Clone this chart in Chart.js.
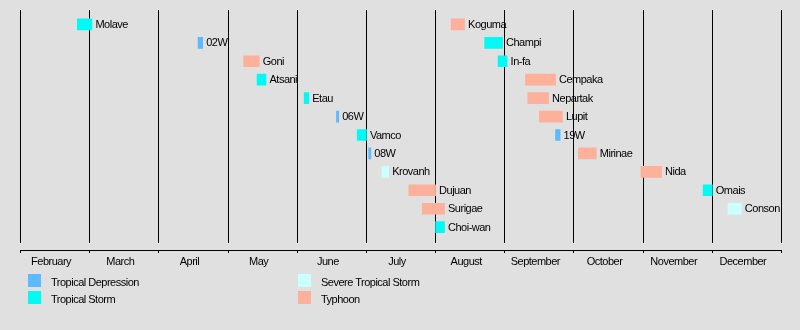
<!DOCTYPE html>
<html>
<head>
<meta charset="utf-8">
<script src="https://cdn.jsdelivr.net/npm/chart.js@4/dist/chart.umd.min.js"></script>
<style>
  html, body { margin: 0; padding: 0; background: #e0e0e0; }
  #wrap { position: relative; width: 800px; height: 330px; background: #e0e0e0; }
  #legend { position: absolute; left: 0; top: 0; width: 800px; height: 330px; pointer-events: none;
            font-family: "Liberation Sans", Arial, sans-serif; font-size: 11px; letter-spacing: -0.5px; color: #000; }
  .li { position: absolute; height: 13px; line-height: 13px; white-space: nowrap; }
  .sw { position: absolute; left: 0; top: 0; width: 13px; height: 13px; }
  .tx { position: absolute; left: 23px; top: 1.5px; }
</style>
</head>
<body>
<div id="wrap">
  <canvas id="c"></canvas>
  <div id="legend"></div>
</div>
<script>
// ---- data ----
const months = ['February','March','April','May','June','July','August','September','October','November','December'];
const monthNumbers = [2,3,4,5,6,7,8,9,10,11,12];
const daysInMonth = [28,31,30,31,30,31,31,30,31,30,31];

const storms = ['Molave','02W','Goni','Atsani','Etau','06W','Vamco','08W','Krovanh','Dujuan','Surigae','Choi-wan',
                'Koguma','Champi','In-fa','Cempaka','Nepartak','Lupit','19W','Mirinae','Nida','Omais','Conson'];
const rows = [1,2,3,4,5,6,7,8,9,10,11,12, 1,2,3,4,5,6,7,8,9,10,11];
const startDates = ['02-24','04-18','05-08','05-14','06-04','06-18','06-27','07-02','07-08','07-20','07-26','08-01',
                    '08-08','08-23','08-29','09-10','09-11','09-16','09-23','10-03','10-31','11-27','12-08'];
const endDates = ['03-01','04-19','05-14','05-17','06-05','06-18','06-30','07-02','07-10','07-31','08-04','08-04',
                  '08-13','08-30','09-01','09-22','09-19','09-25','09-24','10-10','11-08','11-30','12-13'];
const intensity = ['TS','TD','TY','TS','TS','TD','TS','TD','STS','TY','TY','TS',
                   'TY','TS','TS','TY','TY','TY','TD','TY','TY','TS','STS'];

const categoryKeys = ['TD','TS','STS','TY'];
const categoryNames = ['Tropical Depression','Tropical Storm','Severe Tropical Storm','Typhoon'];
const categoryColors = ['#5ebaff','#00faf4','#ccffff','#fdb09a'];

// ---- helpers ----
function monthPos(md) {
  const [m, d] = md.split('-').map(Number);
  const idx = monthNumbers.indexOf(m);
  return idx + (d - 1) / daysInMonth[idx];
}
function endPos(md) {
  const [m] = md.split('-').map(Number);
  const idx = monthNumbers.indexOf(m);
  return monthPos(md) + 1 / daysInMonth[idx];
}
const colorOf = k => categoryColors[categoryKeys.indexOf(k)];

const barData = storms.map((s, i) => ({ x: [monthPos(startDates[i]), endPos(endDates[i])], y: rows[i] }));

const FONT = '"Liberation Sans", Arial, sans-serif';
const LS = '-0.5px';

const spacingPlugin = {
  id: 'spacing',
  beforeUpdate(chart) { chart.ctx.letterSpacing = LS; },
  beforeDraw(chart) { chart.ctx.letterSpacing = LS; }
};

const barLabels = {
  id: 'barLabels',
  afterDatasetsDraw(chart) {
    const ctx = chart.ctx;
    const meta = chart.getDatasetMeta(0);
    ctx.save();
    ctx.letterSpacing = LS;
    ctx.font = '11px ' + FONT;
    ctx.fillStyle = '#000';
    ctx.textAlign = 'left';
    ctx.textBaseline = 'middle';
    meta.data.forEach((bar, i) => {
      const right = Math.max(bar.x, bar.base);
      ctx.fillText(storms[i], right + 3.5, bar.y + 0.5);
    });
    ctx.restore();
  }
};

const gridColor = c => (c.tick && Number.isInteger(c.tick.value)) ? '#000' : 'rgba(0,0,0,0)';

new Chart(document.getElementById('c'), {
  type: 'bar',
  data: {
    datasets: [{
      data: barData,
      backgroundColor: intensity.map(colorOf),
      borderWidth: 0,
      barThickness: 11
    }]
  },
  options: {
    indexAxis: 'y',
    responsive: true,
    maintainAspectRatio: false,
    animation: false,
    events: [],
    layout: { padding: { left: 20.5, right: 18.5, top: 10, bottom: 0 } },
    plugins: { legend: { display: false }, tooltip: { enabled: false } },
    scales: {
      y: { type: 'linear', reverse: true, offset: false, min: 0.22, max: 12.86, display: false,
           grid: { offset: false } },
      x: {
        type: 'linear', position: 'bottom', min: 0, max: 11, weight: 0, offset: false,
        ticks: { display: false, stepSize: 1 },
        grid: { drawTicks: false, drawOnChartArea: true, color: gridColor, lineWidth: 1 },
        border: { display: false },
        afterFit(scale) { scale.height = 7; }
      },
      x2: {
        type: 'linear', position: 'bottom', min: 0, max: 11, weight: 1, offset: false,
        ticks: {
          stepSize: 0.5, autoSkip: false, maxRotation: 0, minRotation: 0, padding: 2,
          labelOffset: -4,
          color: '#000', font: { family: FONT, size: 11 },
          callback: v => Number.isInteger(v) ? '' : months[Math.floor(v)]
        },
        grid: { drawOnChartArea: false, drawTicks: true, tickLength: 3, color: gridColor, lineWidth: 1 },
        border: { display: true, color: '#000', width: 1 },
        afterFit(scale) { scale.height = 80; }
      }
    }
  },
  plugins: [spacingPlugin, barLabels]
});

// ---- legend (2 columns x 2 rows) ----
const legendOrder = [0, 1, 2, 3];
const legendCols = [28, 298];
const legendRows = [274, 291];
const lg = document.getElementById('legend');
legendOrder.forEach((ci, k) => {
  const col = Math.floor(k / 2), row = k % 2;
  const item = document.createElement('div');
  item.className = 'li';
  item.style.left = legendCols[col] + 'px';
  item.style.top = legendRows[row] + 'px';
  const sw = document.createElement('div');
  sw.className = 'sw';
  sw.style.background = categoryColors[ci];
  const tx = document.createElement('div');
  tx.className = 'tx';
  tx.textContent = categoryNames[ci];
  item.appendChild(sw); item.appendChild(tx);
  lg.appendChild(item);
});
</script>
</body>
</html>
